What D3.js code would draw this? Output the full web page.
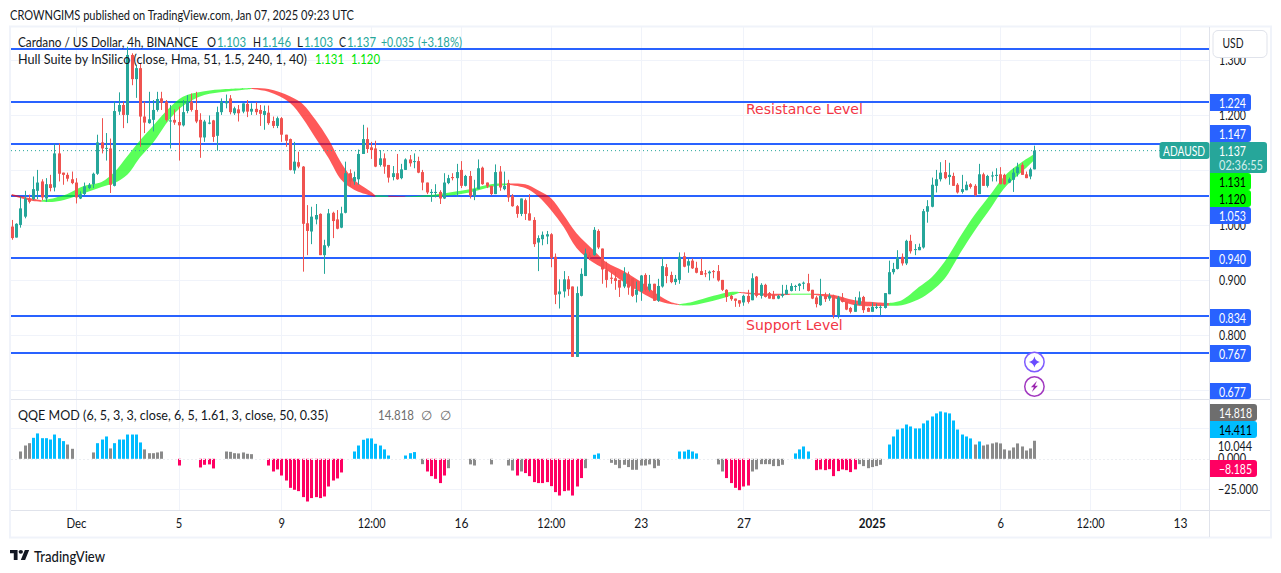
<!DOCTYPE html>
<html>
<head>
<meta charset="utf-8">
<title>ADAUSD</title>
<script src="https://cdn.jsdelivr.net/npm/d3@7"></script>
<style>
  html, body { margin: 0; padding: 0; background: #fff; }
  svg { display: block; }
  text { font-family: Lato, sans-serif; fill: #131722; }
</style>
</head>
<body>
<div id="chart"></div>
<script>
// candles, 4h bars
var opens = [
  .999,.979,1.002,1.017,1.050,1.049,1.064,1.081,1.050,1.076,
  1.070,1.132,1.097,1.093,1.085,1.079,1.050,1.058,1.069,1.076,
  1.095,1.152,1.141,1.141,1.073,1.208,1.220,1.202,1.311,1.267,
  1.287,1.199,1.187,1.193,1.211,1.232,1.226,1.190,1.193,1.189,
  1.183,1.209,1.226,1.211,1.193,1.161,1.186,1.192,1.164,1.207,
  1.223,1.232,1.205,1.212,1.208,1.222,1.208,1.213,1.211,1.202,
  1.206,1.191,1.182,1.196,1.166,1.158,1.101,1.116,
  1.108,1.005,.990,1.012,1.022,.947,.964,1.024,1.012,.997,
  1.024,1.096,1.081,1.085,1.131,1.158,1.143,1.141,1.111,1.123,
  1.111,1.089,1.096,1.087,1.102,1.121,1.117,1.118,1.098,1.079,
  1.060,1.060,1.062,1.050,1.078,1.089,1.087,1.102,1.073,1.091,
  1.055,1.067,1.106,1.079,1.073,1.058,1.099,1.067,1.078,1.055,
  1.036,1.022,1.047,1.023,1.011,.970,.976,.981,.985,.944,
  .876,.881,.903,.890,.762,.873,.909,.947,.947,.991,
  .959,.921,.906,.905,.902,.890,.912,.905,.875,.881,
  .911,.884,.895,.864,.890,.925,.911,.898,.902,.945,
  .928,.937,.924,.918,.914,.914,.918,.918,.902,.884,
  .873,.868,.865,.861,.873,.865,.908,.873,.893,.878,
  .875,.868,.873,.876,.882,.890,.891,.895,.896,.884,
  .870,.856,.873,.868,.873,.838,.870,.862,.851,.844,
  .857,.871,.851,.844,.851,.852,.851,.876,.916,.922,
  .944,.932,.973,.957,.956,.961,1.026,1.035,1.073,1.085,
  1.098,1.089,1.091,1.075,1.062,1.065,1.076,1.073,1.058,1.094,
  1.073,1.090,1.091,1.094,1.093,1.079,1.084,1.096,1.111,1.094,
  1.090,1.103
];
var highs = [
  1.011,1.005,1.053,1.064,1.057,1.090,1.102,1.085,1.087,1.093,
  1.149,1.150,1.097,1.097,1.099,1.087,1.063,1.079,1.078,1.097,
  1.166,1.196,1.169,1.159,1.226,1.243,1.226,1.326,1.314,1.293,
  1.296,1.226,1.244,1.229,1.244,1.244,1.229,1.220,1.212,1.217,
  1.229,1.238,1.241,1.244,1.205,1.193,1.201,1.193,1.217,1.232,
  1.239,1.238,1.217,1.220,1.223,1.229,1.223,1.225,1.220,1.219,
  1.219,1.199,1.199,1.198,1.166,1.159,1.153,1.135,
  1.109,1.038,1.035,1.040,1.023,.975,1.031,1.026,1.029,1.035,
  1.117,1.103,1.099,1.139,1.184,1.179,1.153,1.155,1.138,1.132,
  1.111,1.109,1.131,1.113,1.123,1.129,1.132,1.126,1.102,1.079,
  1.067,1.076,1.065,1.096,1.093,1.096,1.113,1.118,1.093,1.100,
  1.084,1.121,1.108,1.079,1.073,1.112,1.109,1.099,1.084,1.058,
  1.038,1.050,1.050,1.058,1.016,.983,.990,.991,.987,.950,
  .903,.918,.909,.890,.890,.923,.959,.952,.998,.994,
  .959,.935,.917,.917,.902,.925,.917,.905,.899,.911,
  .914,.911,.895,.904,.943,.931,.917,.911,.952,.952,
  .941,.941,.935,.941,.920,.919,.920,.929,.902,.885,
  .875,.868,.865,.875,.884,.914,.909,.896,.895,.880,
  .882,.875,.893,.893,.896,.893,.896,.899,.913,.884,
  .873,.904,.879,.878,.875,.873,.878,.862,.853,.871,
  .881,.873,.852,.861,.859,.856,.878,.937,.933,.956,
  .950,.975,.984,.967,.968,1.031,1.047,1.088,1.102,1.116,
  1.120,1.115,1.097,1.078,1.093,1.081,1.078,1.076,1.113,1.097,
  1.093,1.099,1.105,1.107,1.095,1.088,1.105,1.115,1.115,1.099,
  1.106,1.146
];
var lows = [
  .975,.979,.997,1.014,1.041,1.047,1.049,1.047,1.044,1.063,
  1.063,1.081,1.075,1.081,1.076,1.041,1.049,1.056,1.067,1.069,
  1.093,1.132,1.119,1.060,1.072,1.202,1.178,1.187,1.256,1.233,
  1.144,1.169,1.186,1.172,1.208,1.211,1.190,1.141,1.184,1.119,
  1.181,1.205,1.208,1.187,1.124,1.153,1.185,1.153,1.137,1.202,
  1.214,1.203,1.202,1.190,1.205,1.198,1.202,1.202,1.182,1.175,
  1.184,1.178,1.178,1.153,1.144,1.101,1.095,1.105,
  .917,.947,.967,1.003,.947,.913,.961,.978,.994,.996,
  1.023,1.072,1.075,1.075,1.131,1.133,1.122,1.107,1.108,1.095,
  1.079,1.083,1.084,1.085,1.102,1.108,1.105,1.096,1.065,1.058,
  1.044,1.052,1.040,1.049,1.076,1.083,1.053,1.069,1.072,1.050,
  1.047,1.067,1.075,1.069,1.056,1.058,1.064,1.065,1.044,1.035,
  1.015,1.018,1.011,1.010,.962,.918,.965,.967,.925,.858,
  .850,.870,.873,.762,.762,.872,.909,.938,.946,.958,
  .895,.888,.895,.884,.871,.887,.875,.871,.861,.864,
  .881,.881,.864,.862,.888,.896,.896,.893,.895,.925,
  .915,.922,.914,.911,.907,.901,.905,.899,.882,.862,
  .864,.853,.853,.855,.859,.865,.870,.868,.870,.868,
  .867,.867,.870,.875,.881,.882,.882,.885,.881,.867,
  .852,.855,.862,.864,.832,.832,.861,.847,.841,.844,
  .856,.842,.844,.844,.849,.838,.850,.876,.912,.921,
  .928,.929,.950,.947,.956,.959,1.006,1.034,1.061,1.081,
  1.085,1.075,1.073,1.059,1.059,1.065,1.068,1.054,1.058,1.073,
  1.070,1.081,1.081,1.076,1.075,1.078,1.062,1.090,1.093,1.087,
  1.085,1.103
];
var closes = [
  .978,1.004,1.032,1.050,1.044,1.067,1.079,1.052,1.076,1.069,
  1.132,1.095,1.093,1.086,1.078,1.052,1.058,1.072,1.075,1.095,
  1.152,1.141,1.142,1.075,1.209,1.220,1.202,1.311,1.267,1.287,
  1.199,1.188,1.194,1.211,1.231,1.224,1.193,1.192,1.188,1.183,
  1.207,1.226,1.211,1.190,1.161,1.190,1.188,1.162,1.207,1.226,
  1.227,1.207,1.214,1.205,1.223,1.208,1.213,1.207,1.204,1.209,
  1.187,1.182,1.196,1.166,1.155,1.102,1.117,1.108,
  1.004,.991,1.017,1.020,.947,.965,1.023,1.009,.995,1.023,
  1.096,1.081,1.089,1.131,1.158,1.140,1.138,1.108,1.123,1.108,
  1.088,1.096,1.085,1.103,1.121,1.114,1.118,1.097,1.079,1.061,
  1.062,1.062,1.050,1.079,1.087,1.087,1.098,1.073,1.091,1.055,
  1.067,1.105,1.076,1.072,1.058,1.098,1.070,1.073,1.052,1.036,
  1.022,1.050,1.022,1.010,.967,.978,.984,.985,.942,.875,
  .881,.903,.885,.762,.878,.913,.950,.943,.993,.961,
  .921,.902,.904,.900,.888,.914,.888,.873,.884,.910,
  .884,.895,.864,.891,.927,.909,.898,.904,.944,.926,
  .936,.923,.915,.911,.913,.917,.917,.901,.884,.871,
  .867,.864,.859,.873,.862,.905,.873,.893,.871,.868,
  .867,.873,.876,.884,.891,.891,.895,.897,.882,.868,
  .858,.873,.867,.873,.838,.870,.862,.848,.844,.858,
  .870,.847,.844,.853,.853,.853,.878,.916,.922,.943,
  .932,.973,.954,.958,.962,1.027,1.036,1.075,1.085,1.097,
  1.087,1.093,1.073,1.061,1.067,1.075,1.071,1.056,1.094,1.073,
  1.091,1.092,1.093,1.076,1.076,1.085,1.097,1.107,1.093,1.087,
  1.103,1.137
];

// Hull Suite band, read every few bars. trend is for the stretch after each sample
var hullBars = [
  0,4,7,10,13,17,21,24,27,30,33,37,40,45,50,56,60,65,68,71,
  74,77,80,84,85,88,92,97,103,107,112,116,120,123,126,129,132,136,139,143,
  148,151,154,156,159,164,168,170,177,182,187,192,197,205,208,212,215,218,222,225,
  229,232,236,239
];
var hullUpper = [
  1.058,1.051,1.047,1.051,1.058,1.073,1.080,1.098,1.127,1.156,
  1.182,1.216,1.235,1.245,1.249,1.251,1.249,1.236,1.222,1.193,
  1.158,1.115,1.084,1.062,1.056,1.055,1.054,1.056,1.062,1.067,
  1.076,1.077,1.076,1.065,1.051,1.020,.987,.956,.934,.918,
  .893,.875,.862,.858,.862,.873,.880,.880,.877,.877,
  .877,.875,.865,.860,.865,.889,.907,.935,.985,1.020,
  1.060,1.091,1.116,1.131
];
var hullLower = [
  1.055,1.047,1.044,1.044,1.049,1.060,1.071,1.078,1.093,1.125,
  1.151,1.195,1.218,1.238,1.244,1.249,1.244,1.224,1.196,1.160,
  1.124,1.084,1.066,1.055,1.053,1.053,1.053,1.053,1.056,1.061,
  1.071,1.075,1.069,1.054,1.029,.998,.960,.933,.920,.898,
  .875,.864,.858,.856,.856,.864,.873,.878,.873,.875,
  .875,.869,.856,.855,.856,.867,.882,.904,.955,.991,
  1.035,1.069,1.098,1.120
];
var hullTrend = [
  "r","r","g","g","g","g","g","g","g","g","g","g","g","g","g","r","r","r","r","r",
  "r","r","r","r","g","r","g","g","g","g","g","r","r","r","r","r","r","r","r","r",
  "r","r","r","g","g","g","g","r","r","g","r","r","r","g","g","g","g","g","g","g",
  "g","g","g","g"
];

// QQE MOD histogram, 0 means no bar. b blue, g grey, p pink
var qqeValues = [
  0,0,6.0,10.9,12.8,17.2,20.8,16.9,16.9,15.8,
  19.9,16.9,14.5,11.7,8.2,0,0,0,0,5.2,
  12.8,15.8,18.3,8.5,12.8,15.8,15.8,19.9,19.9,19.9,
  13.4,7.7,4.6,4.6,5.2,6.0,0,0,0,-5.5,
  0,0,0,0,-7.1,-4.9,-4.6,-7.9,0,0,
  6.0,5.7,4.6,4.4,5.2,4.1,3.8,0,0,0,
  -5.5,-10.4,-8.7,-13.7,-17.8,-23.8,-25.4,-26.5,-31.4,-35.0,
  -32.2,-31.4,-32.2,-30.9,-22.7,-17.8,-16.1,-11.2,0,0,
  6.0,10.9,15.6,16.7,16.7,12.3,10.9,7.7,2.7,0,
  0,0,2.7,4.6,5.5,0,-4.4,-10.4,-14.2,-16.4,
  -19.9,-13.7,-7.7,0,0,0,0,-4.6,-5.5,0,
  0,0,-4.6,0,0,0,-5.5,-9.6,-13.7,-10.4,
  -11.7,-14.2,-19.1,-19.9,-19.9,-19.1,-22.4,-27.3,-30.1,-26.5,
  -26.0,-30.1,-22.7,-15.8,-7.7,0,3.3,4.4,0,0,
  -3.3,-4.9,-7.7,-4.9,-6.8,-9.0,-9.0,-5.5,-5.5,-4.6,
  -7.7,-5.7,0,0,0,0,6.0,6.0,7.4,6.0,
  4.4,0,0,0,0,-4.6,-10.4,-15.8,-19.9,-23.8,
  -25.7,-22.7,-21.9,-10.4,-8.7,-4.4,-4.4,-4.4,-6.0,-6.0,
  -4.9,0,0,4.4,7.7,10.1,6.0,0,-9.3,-8.7,
  -9.3,-8.5,-14.2,-10.1,-8.7,-9.3,-10.9,-8.7,-4.4,-6.0,
  -7.7,-6.8,-6.0,-4.9,0,11.7,18.3,24.0,24.9,28.1,
  26.5,24.9,24.9,29.0,31.4,34.7,37.2,38.8,38.0,37.2,
  31.4,24.0,19.9,18.3,16.7,11.7,14.2,10.9,11.7,12.6,
  13.4,12.6,7.7,6.8,9.3,12.6,10.1,6.8,8.5,14.8
];
var qqeKinds = (
  "..gggbbbbb" + "bbbgg....g" + "bbbgbbbbbb" + "bggggg...p" + "....pppp.." +
  "ggggggg..." + "pppppppppp" + "pppppppp.." + "bbbbbbbbb." + "..bbb.gppp" +
  "ppg....gg." + "..g...ggpg" + "pppppppppp" + "ppppg.bb.." + "gggggggggg" +
  "gg....bbbb" + "b....ggppp" + "pppggggggg" + "g..bbbb.pp" + "ppppppppgg" +
  "gggg.bbbbb" + "bbbbbbbbbb" + "bbbbbgbggg" + "gggggggggg"
).split("");

var levels = [1.320, 1.224, 1.147, 1.053, 0.940, 0.834, 0.767];
var priceTicks = [1.3, 1.2, 1.1, 1.0, 0.9, 0.8, 0.7];
var priceTickLabels = ["1.300", "1.200", "", "1.000", "0.900", "0.800", ""];
var qqeTicks = [25, 10.044, 0, -25];
var qqeTickLabels = ["", "10.044", "0.000", "\u221225.000"];
var qqeGrid = [25, -25];
var timeBars = [15, 39, 63, 84, 105, 126, 147, 171, 201, 231, 252, 273];
var timeLabels = ["Dec", "5", "9", "12:00", "16", "12:00", "23", "27", "2025", "6", "12:00", "13"];

var green = "#26a69a", red = "#ef5350", blue = "#2962ff", gridColor = "#f0f3fa", edge = "#e0e3eb";
var qqeColor = { b: "#00bcff", g: "#8a8a8a", p: "#ff0062" };
var hullColor = { r: "#ff0000", g: "#00ff00" };

var width = 1281, height = 573;
var left = 11, right = 1209;
var mainBottom = 399, qqeBottom = 510;

var svg = d3.select("#chart").append("svg").attr("width", width).attr("height", height);

var x = d3.scaleLinear().domain([0, 273]).range([11.7, 1179.9]);
var y = d3.scaleLinear().domain([1.2, 0.8]).range([115, 335]);
var yQqe = d3.scaleLinear().domain([25, -25]).range([428.3, 489.3]);

// Lato runs wider than the chart's font, so text is fitted to the width it has there
function fit(sel, w) {
  return sel.attr("textLength", w).attr("lengthAdjust", "spacingAndGlyphs");
}

// frame
svg.append("rect").attr("x", 10).attr("y", 26.5).attr("width", 1261).attr("height", 511)
  .attr("fill", "#fff").attr("stroke", gridColor).attr("stroke-width", 2);

// grid
svg.append("g").selectAll("line").data(timeBars).enter().append("line")
  .attr("x1", function(d) { return Math.round(x(d)) + 0.5; })
  .attr("x2", function(d) { return Math.round(x(d)) + 0.5; })
  .attr("y1", 27).attr("y2", qqeBottom).attr("stroke", gridColor);
svg.append("g").selectAll("line").data(priceTicks).enter().append("line")
  .attr("x1", left).attr("x2", right)
  .attr("y1", function(d) { return Math.round(y(d)) + 0.5; })
  .attr("y2", function(d) { return Math.round(y(d)) + 0.5; })
  .attr("stroke", gridColor);
svg.append("g").selectAll("line").data(qqeGrid).enter().append("line")
  .attr("x1", left).attr("x2", right)
  .attr("y1", function(d) { return Math.round(yQqe(d)) + 0.5; })
  .attr("y2", function(d) { return Math.round(yQqe(d)) + 0.5; })
  .attr("stroke", gridColor);

// level lines
svg.append("g").selectAll("line").data(levels).enter().append("line")
  .attr("x1", left).attr("x2", right)
  .attr("y1", function(d) { return Math.round(y(d)); })
  .attr("y2", function(d) { return Math.round(y(d)); })
  .attr("stroke", blue).attr("stroke-width", 2);

var bars = d3.range(opens.length);

var plot = svg.append("g").attr("transform", "translate(0,1)");

// hull band, one area per run of the same trend
var hullArea = d3.area()
  .x(function(k) { return x(hullBars[k]); })
  .y0(function(k) { return y(hullLower[k]); })
  .y1(function(k) { return y(hullUpper[k]); })
  .curve(d3.curveCatmullRom);

var run = [0];
for (var k = 1; k < hullBars.length; k++) {
  run.push(k);
  if (hullTrend[k] !== hullTrend[k - 1] || k === hullBars.length - 1) {
    plot.append("path").attr("d", hullArea(run))
      .attr("fill", hullColor[hullTrend[run[0]]]).attr("fill-opacity", 0.65);
    run = [k];
  }
}

plot.append("line")
  .attr("x1", left).attr("x2", 1160)
  .attr("y1", y(closes[closes.length - 1])).attr("y2", y(closes[closes.length - 1]))
  .attr("stroke", green).attr("stroke-dasharray", "1,3");

plot.append("g").selectAll("rect").data(bars).enter().append("rect")
  .attr("x", function(i) { return Math.round(x(i)); })
  .attr("width", 1)
  .attr("y", function(i) { return y(highs[i]); })
  .attr("height", function(i) { return y(lows[i]) - y(highs[i]); })
  .attr("fill", function(i) { return closes[i] >= opens[i] ? green : red; });

plot.append("g").selectAll("rect").data(bars).enter().append("rect")
  .attr("x", function(i) { return Math.round(x(i)) - 1; })
  .attr("width", 3)
  .attr("y", function(i) { return y(Math.max(opens[i], closes[i])); })
  .attr("height", function(i) { return Math.max(1, Math.abs(y(opens[i]) - y(closes[i]))); })
  .attr("fill", function(i) { return closes[i] >= opens[i] ? green : red; });

svg.append("text").attr("x", 746).attr("y", 114).attr("font-size", 14)
  .style("font-family", '"DejaVu Sans", sans-serif').style("fill", "#f23645").text("Resistance Level");
svg.append("text").attr("x", 746).attr("y", 330).attr("font-size", 14)
  .style("font-family", '"DejaVu Sans", sans-serif').style("fill", "#f23645").text("Support Level");

// qqe pane
svg.append("g").selectAll("rect")
  .data(bars.filter(function(i) { return qqeValues[i] !== 0; })).enter().append("rect")
  .attr("x", function(i) { return Math.round(x(i)) - 1; })
  .attr("width", 3)
  .attr("y", function(i) { return Math.min(yQqe(qqeValues[i]), yQqe(0)); })
  .attr("height", function(i) { return Math.abs(yQqe(qqeValues[i]) - yQqe(0)); })
  .attr("fill", function(i) { return qqeColor[qqeKinds[i]]; });
svg.append("line").attr("x1", left).attr("x2", right)
  .attr("y1", Math.round(yQqe(0)) + 0.5).attr("y2", Math.round(yQqe(0)) + 0.5)
  .attr("stroke", "#eceef2").attr("stroke-dasharray", "2,2");

// pane edges
svg.append("line").attr("x1", left).attr("x2", 1270).attr("y1", mainBottom + 0.5).attr("y2", mainBottom + 0.5).attr("stroke", edge);
svg.append("line").attr("x1", left).attr("x2", 1270).attr("y1", qqeBottom + 0.5).attr("y2", qqeBottom + 0.5).attr("stroke", edge);
svg.append("line").attr("x1", right + 0.5).attr("x2", right + 0.5).attr("y1", 27).attr("y2", 537).attr("stroke", edge);

// time axis
var timeWidths = [0, 6.5, 14, 20, 27, 28];
var timeAxis = svg.append("g").attr("transform", "translate(0," + (qqeBottom + 6) + ")")
  .call(d3.axisBottom(x).tickValues(timeBars).tickSize(0)
    .tickFormat(function(d, i) { return timeLabels[i]; }));
timeAxis.select(".domain").remove();
timeAxis.selectAll("text").style("font-family", "Lato, sans-serif").style("font-size", "13px")
  .style("fill", "#131722")
  .style("font-weight", function(d, i) { return timeLabels[i] === "2025" ? "bold" : "normal"; })
  .attr("textLength", function(d, i) { return timeWidths[timeLabels[i].length]; })
  .attr("lengthAdjust", "spacingAndGlyphs");

// price axes
var priceAxis = svg.append("g").attr("transform", "translate(" + 1216 + ",0)")
  .call(d3.axisRight(y).tickValues(priceTicks).tickSize(0)
    .tickFormat(function(d, i) { return priceTickLabels[i]; }));
priceAxis.select(".domain").remove();
priceAxis.selectAll("text")
  .style("font-family", "Lato, sans-serif").style("font-size", "13px").style("fill", "#131722")
  .attr("x", 3).attr("textLength", 27).attr("lengthAdjust", "spacingAndGlyphs");
var qqeAxis = svg.append("g").attr("transform", "translate(" + 1216 + ",0)")
  .call(d3.axisRight(yQqe).tickValues(qqeTicks).tickSize(0)
    .tickFormat(function(d, i) { return qqeTickLabels[i]; }));
qqeAxis.select(".domain").remove();
qqeAxis.selectAll("text")
  .style("font-family", "Lato, sans-serif").style("font-size", "13px").style("fill", "#131722")
  .attr("x", 2)
  .attr("textLength", function(d, i) { return [1, 34, 28, 40][i]; })
  .attr("lengthAdjust", "spacingAndGlyphs");

function tag(xa, ya, w, h, fill, rows) {
  svg.append("path")
    .attr("d", "M" + xa + "," + ya + "h" + (w - 3) + "a3,3 0 0 1 3,3v" + (h - 6) + "a3,3 0 0 1 -3,3h" + (3 - w) + "z")
    .attr("fill", fill);
  rows.forEach(function(r) {
    fit(svg.append("text").attr("x", xa + 9).attr("y", ya + r.dy)
      .attr("dominant-baseline", "central").attr("font-size", 13)
      .style("fill", r.color).text(r.text), r.w || 27);
  });
}

// usd box covers the top tick
svg.append("rect").attr("x", 1213).attr("y", 30.5).attr("width", 54).attr("height", 27).attr("rx", 5)
  .attr("fill", "#fff").attr("stroke", edge);
fit(svg.append("text").attr("x", 1222.5).attr("y", 48).attr("font-size", 13).text("USD"), 21);

tag(1210, 94, 41, 17, blue, [{ text: "1.224", dy: 8.5, color: "#fff" }]);
tag(1210, 125, 41, 17, blue, [{ text: "1.147", dy: 8.5, color: "#fff" }]);
tag(1210, 173, 41, 17, "#00ff00", [{ text: "1.131", dy: 8.5, color: "#000" }]);
tag(1210, 190, 41, 17, "#00ff00", [{ text: "1.120", dy: 8.5, color: "#000" }]);
tag(1210, 207, 41, 17, blue, [{ text: "1.053", dy: 8.5, color: "#fff" }]);
tag(1210, 250, 41, 17, blue, [{ text: "0.940", dy: 8.5, color: "#fff" }]);
tag(1210, 309, 41, 17, blue, [{ text: "0.834", dy: 8.5, color: "#fff" }]);
tag(1210, 345, 41, 17, blue, [{ text: "0.767", dy: 8.5, color: "#fff" }]);
tag(1210, 383, 41, 16, blue, [{ text: "0.677", dy: 8.5, color: "#fff" }]);
tag(1210, 142, 57, 31, green, [
  { text: "1.137", dy: 9, color: "#fff" },
  { text: "02:36:55", dy: 23, color: "#d4eeeb", w: 44 }
]);
svg.append("rect").attr("x", 1159.5).attr("y", 142).attr("width", 50).attr("height", 17).attr("rx", 3).attr("fill", green);
fit(svg.append("text").attr("x", 1163).attr("y", 150.5).attr("dominant-baseline", "central")
  .attr("font-size", 13).style("fill", "#fff").text("ADAUSD"), 42);

tag(1210, 404, 47, 17, "#6e6e6e", [{ text: "14.818", dy: 8.5, color: "#fff", w: 33 }]);
tag(1210, 421, 47, 17, "#00bcff", [{ text: "14.411", dy: 8.5, color: "#000", w: 33 }]);
tag(1210, 460, 47, 17, "#ff0062", [{ text: "\u22128.185", dy: 8.5, color: "#fff", w: 33 }]);

// legend rows
function legend(ly, parts) {
  parts.forEach(function(p) {
    var t = svg.append("text").attr("x", p.x).attr("y", ly)
      .attr("dominant-baseline", "central").attr("font-size", 13)
      .style("fill", p.color || "#131722").text(p.text);
    if (p.w) fit(t, p.w);
  });
}
legend(42, [
  { x: 18, text: "Cardano / US Dollar, 4h, BINANCE", w: 180 },
  { x: 207, text: "O", w: 9 }, { x: 217, text: "1.103", color: green, w: 29 },
  { x: 253, text: "H", w: 8 }, { x: 262, text: "1.146", color: green, w: 29 },
  { x: 297, text: "L", w: 6 }, { x: 304, text: "1.103", color: green, w: 29 },
  { x: 339, text: "C", w: 7 }, { x: 347, text: "1.137", color: green, w: 29 },
  { x: 381, text: "+0.035", color: green, w: 33 }, { x: 418, text: "(+3.18%)", color: green, w: 44 }
]);
legend(59, [
  { x: 18, text: "Hull Suite by InSilico (close, Hma, 51, 1.5, 240, 1, 40)", w: 289 },
  { x: 315, text: "1.131", color: "#00e600", w: 29 }, { x: 351, text: "1.120", color: "#00e600", w: 29 }
]);
legend(415, [
  { x: 18, text: "QQE MOD (6, 5, 3, 3, close, 6, 5, 1.61, 3, close, 50, 0.35)", w: 310 },
  { x: 378, text: "14.818", color: "#6e6e6e", w: 36 }, { x: 421, text: "\u2205", color: "#6e6e6e" }, { x: 440, text: "\u2205", color: "#6e6e6e" }
]);

// event badges on the last bar
var badgeX = x(bars[bars.length - 1]);
svg.append("circle").attr("cx", badgeX).attr("cy", 362).attr("r", 9.7).attr("fill", "#fff")
  .attr("stroke", "#7e5cff").attr("stroke-width", 1.5);
svg.append("path").attr("transform", "translate(" + badgeX + ",362)")
  .attr("d", "M0,-5.5Q1,-1 5.5,0Q1,1 0,5.5Q-1,1 -5.5,0Q-1,-1 0,-5.5z").attr("fill", "#6a4cff");
svg.append("circle").attr("cx", badgeX).attr("cy", 386.5).attr("r", 9.7).attr("fill", "#fff")
  .attr("stroke", "#a23ac0").attr("stroke-width", 1.5);
svg.append("path").attr("transform", "translate(" + badgeX + ",386.5)")
  .attr("d", "M2.5,-5.5L-3.5,0.8H-0.5L-2.5,5.5L3.5,-0.8H0.5z").attr("fill", "#9c27b0");

// header and footer
fit(svg.append("text").attr("x", 10).attr("y", 14.5).attr("dominant-baseline", "central")
  .attr("font-size", 13).text("CROWNGIMS published on TradingView.com, Jan 07, 2025 09:23 UTC"), 344);
var logo = svg.append("g").attr("transform", "translate(10,550) scale(0.54,0.46)");
logo.append("path").attr("d", "M14 22H7V7H0V0h14v22zM28 22h-8L27.5 0h8L28 22z").attr("fill", "#131722");
logo.append("circle").attr("cx", 20).attr("cy", 4).attr("r", 4).attr("fill", "#131722");
fit(svg.append("text").attr("x", 34).attr("y", 555.5).attr("dominant-baseline", "central")
  .attr("font-size", 15).attr("font-weight", 500).text("TradingView"), 71);
</script>
</body>
</html>
